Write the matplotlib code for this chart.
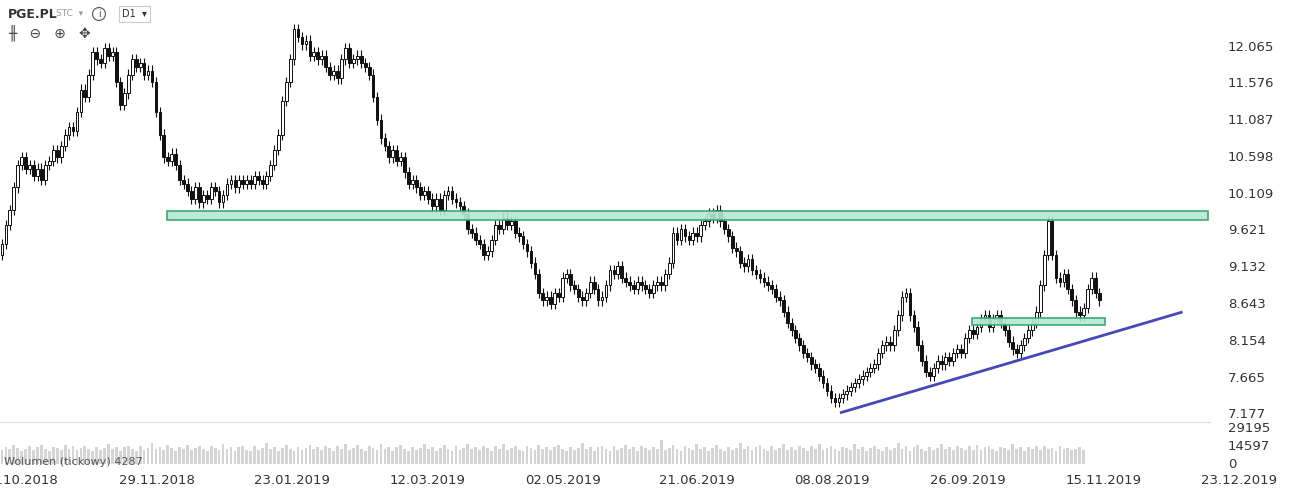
import matplotlib
matplotlib.use("Agg")
import matplotlib.pyplot as plt
from matplotlib.patches import Rectangle

closes = [9.45,9.7,9.9,10.2,10.5, 10.6,10.45,10.5,10.35,10.45, 10.3,10.5,10.55,10.7,10.6,
 10.75,10.9,11.0,10.95, 11.2,11.5,11.4,11.7,12.0, 11.9,11.85,12.05,11.95,12.0,
 11.6,11.3,11.45, 11.7,11.9,11.8, 11.85,11.7,11.75,11.6, 11.2,10.9,10.6,
 10.55,10.65,10.5,10.3,10.25, 10.15,10.05,10.2,10.0,10.1, 10.05,10.2,10.15,10.0,10.1,
 10.25,10.3,10.2,10.3,10.25, 10.3,10.25,10.35,10.3,10.25, 10.35,10.5,10.7,
 10.9,11.35,11.6,11.9,12.3, 12.2,12.1,12.15,11.95,12.0, 11.9,11.95,11.8,11.7,11.75,
 11.65,11.9,12.05,11.85,11.9, 11.95,11.85,11.8,11.7,11.4, 11.1,10.85,10.75,10.6,
 10.7,10.55,10.6,10.4,10.25, 10.3,10.2,10.1,10.15,10.05, 9.95,10.05,9.9,10.1,10.15,
 10.05,10.0,9.95,9.85,9.65, 9.6,9.5,9.45,9.3,9.35, 9.5,9.7,9.65,9.8,9.7,
 9.75,9.6,9.55,9.45,9.35, 9.2,9.05,8.8,8.7, 8.75,8.65,8.8,8.75,9.0,
 9.05,8.9,8.85,8.75,8.7, 8.8,8.95,8.85,8.7,8.75, 8.9,9.1,9.05,9.15,9.0,
 8.95,8.9,8.85,8.95,8.9, 8.85,8.8,8.9,8.95,8.9, 9.05,9.2,9.6,9.5,
 9.65,9.55,9.5,9.6,9.55, 9.7,9.75,9.85,9.8,9.9, 9.75,9.65,9.55,9.4,9.35,
 9.2,9.15,9.25,9.1,9.05, 9.0,8.95,8.9,8.85,8.75, 8.7,8.55,8.4,8.3,8.2,
 8.1,8.0,7.95,7.85,7.8, 7.7,7.6,7.5,7.4,7.35, 7.4,7.45,7.5,7.55,7.6,
 7.65,7.7,7.75,7.8,7.85, 8.0,8.1,8.15,8.1,8.3, 8.5,8.75,8.8,8.5,8.35,
 8.1,7.9,7.75,7.7,7.8, 7.9,7.85,7.95,7.9,8.0, 8.05,8.0,8.2,8.3,8.25,
 8.35,8.45,8.5,8.35,8.45, 8.5,8.4,8.3,8.15,8.05, 8.0,8.1,8.2,8.3,8.4,
 8.55,8.9,9.3,9.75, 9.3,9.0,8.95,9.05,8.85, 8.7,8.55,8.5,8.6, 8.85,9.0,8.8,8.7]
first_open = 9.3

volumes = [11800,14100,12400,15500,13200,10900,12700,14600,11400,13800,15900,12200,10700,14300,13100,11600,16200,12900,14800,11300,
 13600,15100,12100,10800,14400,11700,13300,16800,12500,14000,11100,13900,15400,12300,10600,14700,11900,13500,17600,12800,
 14200,11500,15700,13000,10900,14500,12600,16100,11800,13700,15000,12200,10500,14900,13400,11600,16500,12700,14300,11200,
 13800,15300,12000,10700,14600,11400,13200,17200,12400,14100,11000,13600,15800,12900,10800,14400,11700,13300,16000,12500,
 14000,11300,15200,13100,11100,14800,12300,16600,11900,13500,15600,12100,10600,14700,13000,11500,16300,12800,14200,11200,
 13900,15500,12200,10900,14500,11600,13400,17000,12600,14300,11100,13700,15900,12700,10700,14600,11800,13200,16400,12400,
 14100,11400,15100,13300,11000,14900,12500,16700,11700,13600,15400,12000,10800,14800,13100,11500,16100,12900,14400,11300,
 13800,15700,12300,10600,14200,11900,13500,17400,12800,14000,11200,13900,15300,12600,10900,14700,11600,13400,16200,12100,
 14500,11100,15000,13200,11400,14300,12400,19800,11800,13700,15800,12200,10500,14600,13000,11700,16900,12700,14100,11000,
 13600,15500,12500,10800,14400,11500,13300,17800,12900,14800,11300,13800,16000,12300,10700,14900,11900,13100,16600,12000,
 14200,11600,15200,13400,11200,14700,12600,16300,11400,13500,15300,12100,10900,14500,13200,11800,16800,12800,14000,11100,
 13700,15100,12400,10600,14300,11700,13600,17100,12700,14600,11000,13900,15900,12200,10800,14100,11500,13000,16500,12500,
 14400,11300,15400,13300,11900,14800,12000,16000,11600,13800,15300,12600,10700,14200,13100,11400,16400,12300,14500,11200,
 13900,12500,14700,11800,15000,12100,13400,10900,14600,12800,13500,11600,12400,14200,11900]

tick_pos = [4.5, 38.2, 71.5, 105.0, 138.5, 171.5, 205.0, 238.5, 272.0, 305.5]
tick_labels = ["10.10.2018","29.11.2018","23.01.2019","12.03.2019","02.05.2019","21.06.2019",
               "08.08.2019","26.09.2019","15.11.2019","23.12.2019"]
price_ticks = [7.177, 7.665, 8.154, 8.643, 9.132, 9.621, 10.109, 10.598, 11.087, 11.576, 12.065]
vol_ticks = [0, 14597, 29195]

XMAX = 306.0
fig = plt.figure(figsize=(12.9, 4.9), dpi=100)
ax = fig.add_axes([0, 70/490, 1210/1290, 420/490])
vax = fig.add_axes([0, 20/490, 1210/1290, 48/490])

opens = [first_open] + closes[:-1]
w = 0.7
for i, (o, c) in enumerate(zip(opens, closes)):
    hi = max(o, c) + 0.07
    lo = min(o, c) - 0.07
    ax.vlines(i, lo, hi, color="#111111", lw=0.8, zorder=2)
    up = c >= o
    ax.add_patch(Rectangle((i - w/2, min(o, c)), w, max(abs(c - o), 0.01),
                 facecolor="white" if up else "#111111", edgecolor="#111111", lw=0.7, zorder=3))

ax.add_patch(Rectangle((41.8, 9.77), 263.8, 0.12, facecolor="#b6e8d3", edgecolor="#2fa06e", lw=1.2, zorder=4, alpha=0.9))
ax.add_patch(Rectangle((245.6, 8.37), 33.7, 0.09, facecolor="#b6e8d3", edgecolor="#2fa06e", lw=1.2, zorder=4, alpha=0.9))
ax.plot([212.6, 298.7], [7.21, 8.54], color="#4448b8", lw=2, zorder=5)

ax.set_xlim(-0.5, XMAX)
ax.set_ylim(7.11, 12.69)
for s in ax.spines.values():
    s.set_visible(False)
ax.set_xticks([]); ax.set_yticks([])
for p in price_ticks:
    fig.text(1228/1290, (70 + (p - 7.11) / (12.69 - 7.11) * 420) / 490,
             f"{p:.3f}", fontsize=9.5, color="#333333", va="center", ha="left")

n = min(len(volumes), len(closes))
vax.bar(range(n), volumes[:n], width=0.7, color="#d4d4d4")
vax.set_xlim(-0.5, XMAX)
vax.set_ylim(-5000, 35000)
for s in vax.spines.values():
    s.set_visible(False)
vax.set_xticks([]); vax.set_yticks([])
for v in vol_ticks:
    fig.text(1228/1290, (20 + (v + 5000) / 40000 * 48) / 490, f"{v}", fontsize=9.5, color="#333333", va="center", ha="left")
fig.add_artist(plt.Line2D([0, 1210/1290], [68/490, 68/490], color="#dddddd", lw=0.8))
vax.text(0.5, 2000, "Wolumen (tickowy) 4287", fontsize=8, color="#555555", va="center")

for t, lab in zip(tick_pos, tick_labels):
    xf = (2 + t * 4.05) / 1290
    fig.text(xf, 10/490, lab, fontsize=9.5, color="#333333", ha="center", va="center")

fig.text(8/1290, 476/490, "PGE.PL", fontsize=9, fontweight="bold", color="#333333", va="center")
fig.text(56/1290, 476/490, "STC  ▾", fontsize=6.5, color="#999999", va="center")
fig.text(99/1290, 476/490, "i", fontsize=7, color="#555555", va="center", ha="center",
         bbox=dict(boxstyle="circle,pad=0.15", fc="white", ec="#555555", lw=0.8))
fig.text(122/1290, 476/490, "D1  ▾", fontsize=7, color="#333333", va="center",
         bbox=dict(boxstyle="square,pad=0.3", fc="white", ec="#cccccc", lw=0.8))
fig.text(8/1290, 457/490, "╫   ⊖   ⊕   ✥", fontsize=10, color="#444444", va="center")

fig.savefig("out.png", dpi=100)
